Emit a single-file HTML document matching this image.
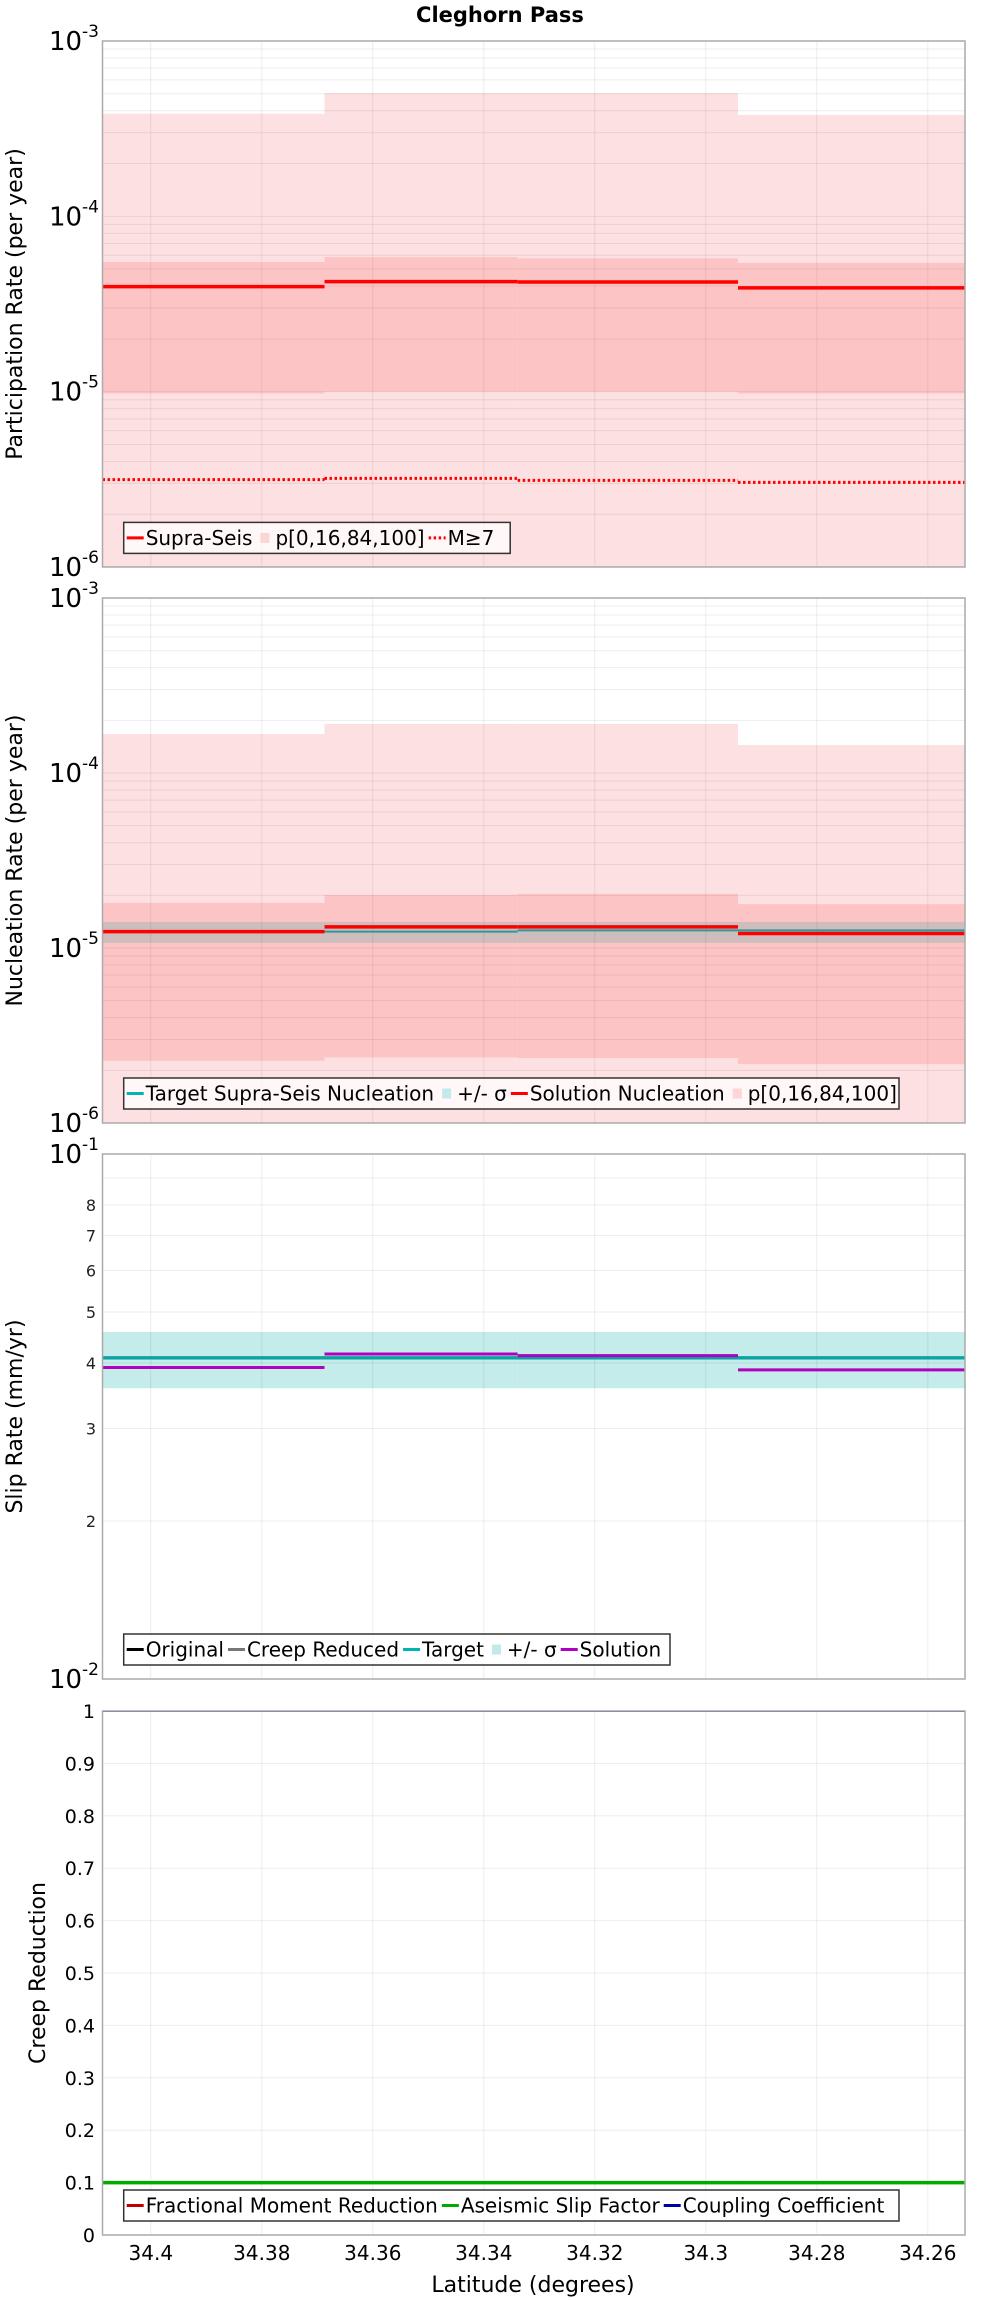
<!DOCTYPE html>
<html><head><meta charset="utf-8">
<style>
html,body{margin:0;padding:0;background:#fff;}
svg{display:block;font-family:"DejaVu Sans","Liberation Sans",sans-serif;}
</style></head>
<body>
<svg id="chart" width="1000" height="2300" viewBox="0 0 1000 2300" xmlns="http://www.w3.org/2000/svg">
<text x="500" y="22" font-size="21" font-weight="bold" text-anchor="middle">Cleghorn Pass</text>
<g id="layer"></g>
</svg>
<script>
// ---------- data ----------
const latEdges = [34.4087, 34.3687, 34.3339, 34.2942, 34.2533];
const xTicks = [34.4, 34.38, 34.36, 34.34, 34.32, 34.3, 34.28, 34.26];
const xTickLabels = ["34.4", "34.38", "34.36", "34.34", "34.32", "34.3", "34.28", "34.26"];
// panel 1: participation
const partMin = [5e-7, 5e-7, 5e-7, 5e-7];
const partP16 = [9.77e-6, 1.0e-5, 1.0e-5, 9.77e-6];
const partP84 = [5.49e-5, 5.86e-5, 5.76e-5, 5.42e-5];
const partMax = [3.85e-4, 5.05e-4, 5.05e-4, 3.79e-4];
const partSupra = [3.97e-5, 4.24e-5, 4.22e-5, 3.91e-5];
const partM7 = [3.15e-6, 3.2e-6, 3.12e-6, 3.04e-6];
// panel 2: nucleation
const nuclMin = [5e-7, 5e-7, 5e-7, 5e-7];
const nuclP16 = [2.27e-6, 2.37e-6, 2.35e-6, 2.17e-6];
const nuclP84 = [1.81e-5, 2.01e-5, 2.04e-5, 1.78e-5];
const nuclMax = [1.67e-4, 1.905e-4, 1.905e-4, 1.445e-4];
const nuclTarget = [1.24e-5, 1.24e-5, 1.26e-5, 1.26e-5];
const nuclSigHi = [1.41e-5, 1.41e-5, 1.41e-5, 1.41e-5];
const nuclSigLo = [1.07e-5, 1.07e-5, 1.07e-5, 1.07e-5];
const nuclSolution = [1.24e-5, 1.32e-5, 1.32e-5, 1.21e-5];
// panel 3: slip rate (mm/yr)
const slipOriginal = [4.09, 4.09, 4.09, 4.09];
const slipCreep = [4.09, 4.09, 4.09, 4.09];
const slipTarget = [4.09, 4.09, 4.09, 4.09];
const slipSigHi = [4.58, 4.58, 4.58, 4.58];
const slipSigLo = [3.58, 3.58, 3.58, 3.58];
const slipSolution = [3.92, 4.16, 4.13, 3.88];
const slipTicks = [8, 7, 6, 5, 4, 3, 2];
const slipTickLabels = ["8", "7", "6", "5", "4", "3", "2"];
// panel 4: creep
const creepFMR = [0.1, 0.1, 0.1, 0.1];
const creepASF = [0.1, 0.1, 0.1, 0.1];
const creepCoupling = [1, 1, 1, 1];
const creepTicks = [0, 0.1, 0.2, 0.3, 0.4, 0.5, 0.6, 0.7, 0.8, 0.9, 1];
const creepTickLabels = ["0", "0.1", "0.2", "0.3", "0.4", "0.5", "0.6", "0.7", "0.8", "0.9", "1"];

// ---------- helpers ----------
const NS = "http://www.w3.org/2000/svg";
const layer = document.getElementById('layer');
const L = 102.5, R = 965;
function xs(lat){ return L + (latEdges[0]-lat)/(latEdges[0]-latEdges[latEdges.length-1])*(R-L); }
function mk(tag, attrs, parent){ const e=document.createElementNS(NS,tag); for(const k in attrs) e.setAttribute(k,attrs[k]); (parent||layer).appendChild(e); return e; }
function logScale(top,bot,lo,hi){ return v=>{ const c=Math.max(v,lo/10); return bot-(Math.log10(c)-Math.log10(lo))/(Math.log10(hi)-Math.log10(lo))*(bot-top);}; }
function linScale(top,bot,lo,hi){ return v=>bot-(v-lo)/(hi-lo)*(bot-top); }

function panelFrame(name, top, bot){
  const g = mk('g',{});
  
  
  const clip = mk('clipPath',{id:'clip-'+name}, g);
  mk('rect',{x:L,y:top,width:R-L,height:bot-top}, clip);
  const inner = mk('g',{'clip-path':'url(#clip-'+name+')'}, g);
  return {g, inner};
}
function bandRects(parent, y, lo, hi, fill, nm){
  for(let i=0;i<lo.length;i++){
    const x0=xs(latEdges[i]), x1=xs(latEdges[i+1]);
    const ya=y(hi[i]), yb=y(lo[i]);
    const r=mk('rect',{x:x0,y:Math.min(ya,yb),width:x1-x0,height:Math.abs(yb-ya),fill:fill},parent);
    
    
  }
}
function stepLines(parent, y, vals, color, w, nm, dash){
  for(let i=0;i<vals.length;i++){
    const x0=xs(latEdges[i]), x1=xs(latEdges[i+1]);
    const a={x1:x0,x2:x1,y1:y(vals[i]),y2:y(vals[i]),stroke:color,'stroke-width':w};
    if(dash) a['stroke-dasharray']=dash;
    const l=mk('line',a,parent);
    
    
  }
}
function vgrid(parent, top, bot){
  xTicks.forEach(t=>{ mk('line',{x1:xs(t),x2:xs(t),y1:top,y2:bot,stroke:'rgba(0,0,0,0.07)','stroke-width':1},parent); });
}
function logGrid(parent, y, lo, hi){
  for(let d=Math.log10(lo); d<Math.log10(hi); d++){
    for(let m=1;m<10;m++){ const v=m*Math.pow(10,d); const yy=y(v);
      mk('line',{x1:L,x2:R,y1:yy,y2:yy,stroke:'rgba(0,0,0,0.07)','stroke-width':1},parent);}
  }
}
function frame(g, top, bot){
  mk('rect',{x:L,y:top,width:R-L,height:bot-top,fill:'none',stroke:'#aaa','stroke-width':1.5},g);
}
function powLabel(g, yy, exp, nm){
  const t=mk('text',{x:99,y:yy+9,'font-size':26,'text-anchor':'end'},g);
  
  
  const a=mk('tspan',{},t); a.textContent='10';
  const b=mk('tspan',{'font-size':17,dy:-13}, t); b.textContent=exp;
}
function yTitle(g, cx, cy, txt, nm){
  const t=mk('text',{x:cx,y:cy,'font-size':22,'text-anchor':'middle',transform:'rotate(-90 '+cx+' '+cy+')'},g);
  t.textContent=txt;
  
  
}
function legend(g, x, y, w, h, items, nm){
  const lg=mk('g',{},g);
  
  
  mk('rect',{x:x,y:y,width:w,height:h,fill:'rgba(255,255,255,0.75)',stroke:'#333','stroke-width':1.5},lg);
  let cx=x+3; const cy=y+h/2;
  items.forEach(it=>{
    const e=mk('g',{},lg);
    
    
    if(it.type==='sq'){ mk('rect',{x:cx+4,y:cy-5,width:9,height:10,fill:it.color},e); }
    else { const a={x1:cx,x2:cx+17,y1:cy,y2:cy,stroke:it.color,'stroke-width':3}; if(it.dash) a['stroke-dasharray']=it.dash; mk('line',a,e); }
    const t=mk('text',{x:cx+19,y:cy+7,'font-size':20},e); t.textContent=it.label;
    cx += 19 + t.getComputedTextLength() + 4;
  });
}

// ---------- panel 1 ----------
(function(){
  const top=41, bot=567, y=logScale(top,bot,1e-6,1e-3);
  const p=panelFrame('participation-panel',top,bot);
  bandRects(p.inner,y,partMin,partMax,'#fde0e1','p0-100-band');
  bandRects(p.inner,y,partP16,partP84,'#fdc4c5','p16-84-band');
  logGrid(p.inner,y,1e-6,1e-3); vgrid(p.inner,top,bot);
  stepLines(p.inner,y,partSupra,'#ff0000',3.5,'supra-seis-line');
  stepLines(p.inner,y,partM7,'#ff0000',3,'m7-line','2.5 2.5');
  frame(p.g,top,bot);
  [[-3,1e-3],[-4,1e-4],[-5,1e-5],[-6,1e-6]].forEach(a=>powLabel(p.g,y(a[1]),String(a[0]),'y-tick-label'));
  yTitle(p.g,22,(top+bot)/2,'Participation Rate (per year)','y-axis-title-participation');
  legend(p.g,123.7,522.4,386.5,31,[{label:'Supra-Seis',color:'#ff0000'},{label:'p[0,16,84,100]',color:'#fcd6d7',type:'sq'},{label:'M≥7',color:'#ff0000',dash:'2.5 2.5'}],'legend-participation');
})();
// ---------- panel 2 ----------
(function(){
  const top=598, bot=1123, y=logScale(top,bot,1e-6,1e-3);
  const p=panelFrame('nucleation-panel',top,bot);
  bandRects(p.inner,y,nuclMin,nuclMax,'#fde0e1','p0-100-band');
  bandRects(p.inner,y,nuclP16,nuclP84,'#fdc4c5','p16-84-band');
  bandRects(p.inner,y,nuclSigLo,nuclSigHi,'rgba(150,180,180,0.45)','sigma-band');
  logGrid(p.inner,y,1e-6,1e-3); vgrid(p.inner,top,bot);
  stepLines(p.inner,y,nuclTarget,'#2a9a9a',2,'target-nucleation-line');
  stepLines(p.inner,y,nuclSolution,'#ff0000',3.5,'solution-nucleation-line');
  frame(p.g,top,bot);
  [[-3,1e-3],[-4,1e-4],[-5,1e-5],[-6,1e-6]].forEach(a=>powLabel(p.g,y(a[1]),String(a[0]),'y-tick-label'));
  yTitle(p.g,22,(top+bot)/2,'Nucleation Rate (per year)','y-axis-title-nucleation');
  legend(p.g,123.7,1078,775.3,31,[{label:'Target Supra-Seis Nucleation',color:'#00b4b4'},{label:'+/- σ',color:'#c3eaea',type:'sq'},{label:'Solution Nucleation',color:'#ff0000'},{label:'p[0,16,84,100]',color:'#fcd6d7',type:'sq'}],'legend-nucleation');
})();
// ---------- panel 3 ----------
(function(){
  const top=1154, bot=1679, y=logScale(top,bot,1,10);
  const p=panelFrame('slip-rate-panel',top,bot);
  bandRects(p.inner,y,slipSigLo,slipSigHi,'#c3ecea','slip-sigma-band');
  logGrid(p.inner,y,1,10); vgrid(p.inner,top,bot);
  stepLines(p.inner,y,slipOriginal,'#000',3,'original-line');
  stepLines(p.inner,y,slipCreep,'#777',3,'creep-reduced-line');
  stepLines(p.inner,y,slipTarget,'#00a8a8',3,'target-slip-line');
  stepLines(p.inner,y,slipSolution,'#b000c0',3,'solution-slip-line');
  frame(p.g,top,bot);
  slipTicks.forEach((v,i)=>{ const t=mk('text',{x:96,y:y(v)+6,'font-size':16,'text-anchor':'end',fill:'#222'},p.g); t.textContent=slipTickLabels[i];
      });
  powLabel(p.g,y(10),'-1','y-tick-label'); powLabel(p.g,y(1),'-2','y-tick-label');
  yTitle(p.g,22,(top+bot)/2,'Slip Rate (mm/yr)','y-axis-title-slip');
  legend(p.g,123.7,1634,546.3,31,[{label:'Original',color:'#000'},{label:'Creep Reduced',color:'#777'},{label:'Target',color:'#00b4b4'},{label:'+/- σ',color:'#c3eaea',type:'sq'},{label:'Solution',color:'#b000c0'}],'legend-slip');
})();
// ---------- panel 4 ----------
(function(){
  const top=1711, bot=2235, y=linScale(top,bot,0,1);
  const p=panelFrame('creep-panel',top,bot);
  creepTicks.forEach(v=>mk('line',{x1:L,x2:R,y1:y(v),y2:y(v),stroke:'rgba(0,0,0,0.07)','stroke-width':1},p.inner));
  vgrid(p.inner,top,bot);
  stepLines(p.inner,y,creepFMR,'#c00000',3,'fractional-moment-line');
  stepLines(p.inner,y,creepASF,'#00aa00',3.5,'aseismic-slip-line');
  stepLines(p.inner,y,creepCoupling,'#2a2ab0',2,'coupling-line');
  frame(p.g,top,bot);
  creepTicks.forEach((v,i)=>{ const t=mk('text',{x:95,y:y(v)+7,'font-size':19,'text-anchor':'end'},p.g); t.textContent=creepTickLabels[i];
      });
  yTitle(p.g,45,(top+bot)/2,'Creep Reduction','y-axis-title-creep');
  legend(p.g,123.7,2190,775.3,31,[{label:'Fractional Moment Reduction',color:'#c00000'},{label:'Aseismic Slip Factor',color:'#00aa00'},{label:'Coupling Coefficient',color:'#0000aa'}],'legend-creep');
  xTicks.forEach((v,i)=>{ const t=mk('text',{x:xs(v),y:2260,'font-size':20,'text-anchor':'middle'},p.g); t.textContent=xTickLabels[i];
      });
  const xt=mk('text',{x:533,y:2292,'font-size':22,'text-anchor':'middle'},p.g); xt.textContent='Latitude (degrees)';
   
})();
</script>
</body></html>
